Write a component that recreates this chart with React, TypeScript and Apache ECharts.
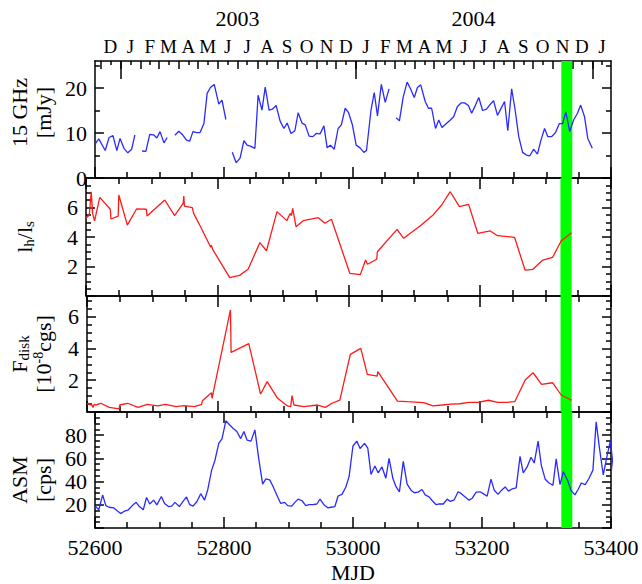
import React, { useEffect, useRef } from 'react';
import * as echarts from 'echarts';

const X_MIN = 52600;
const X_MAX = 53400;

// 15 GHz radio flux (mJy); null = gap in the light curve
const radioMjd = [
  52600, 52606, 52616, 52622, 52628, 52634, 52639, 52645, 52651, 52657, 52662, 52668,
  52673, 52679, 52685, 52691, 52696, 52701, 52707, 52712, 52718,
  52724, 52730, 52736, 52742, 52747, 52752, 52758, 52763, 52769, 52774, 52779, 52785, 52792, 52797, 52803, 52808,
  52813, 52819, 52825, 52831, 52836, 52841, 52848, 52853, 52859, 52864, 52870, 52875, 52881, 52887, 52893, 52898,
  52904, 52910, 52915, 52921, 52926, 52932, 52938, 52943, 52949, 52955, 52960, 52965, 52971, 52977, 52982, 52988,
  52993, 52999, 53005, 53011, 53017, 53021, 53028, 53033, 53038, 53044, 53050, 53056, 53061,
  53067, 53072, 53078, 53084, 53089, 53095, 53100, 53105, 53112, 53117, 53122, 53128, 53133, 53138, 53144, 53151,
  53156, 53162, 53168, 53173, 53179, 53184, 53190, 53195, 53201, 53207, 53213, 53218, 53224, 53229, 53235, 53240,
  53246, 53251, 53257, 53263, 53269, 53274, 53280, 53286, 53291, 53297, 53302, 53308, 53314, 53320, 53325, 53330,
  53336, 53342, 53348, 53353, 53359, 53364, 53371,
];
const radioFlux = [
  7.5, 8.7, 6.1, 9.0, 9.4, 6.1, 8.8, 6.6, 5.6, 6.4, 9.6, null,
  6.0, 5.9, 9.7, 9.6, 8.9, 10.3, 7.8, 9.0, null,
  9.5, 10.4, 9.6, 8.4, 8.2, 10.3, 10.1, 10.1, 12.1, 18.8, 20.1, 20.8, 16.4, 17.3, 13.0, null,
  5.7, 3.4, 4.4, 8.3, 7.3, 7.1, 6.6, 18.4, 15.1, 20.2, 15.1, 15.3, 16.1, 12.7, 11.0, 12.2,
  9.9, 10.5, 14.5, 12.2, 11.8, 9.3, 9.2, 9.9, 9.8, 11.6, 6.7, 7.3, 6.4, 11.0, 11.8, 15.5,
  14.6, 11.9, 7.3, 6.7, 5.7, 6.1, 15.1, 19.0, 13.8, 20.8, 16.8, 19.8, null,
  13.4, 12.7, 18.1, 21.3, 19.9, 17.9, 20.1, 20.7, 17.0, 15.5, 15.5, 11.0, 12.9, 11.2, 12.0, 12.9,
  13.6, 15.9, 16.7, 16.7, 16.1, 14.4, 16.2, 17.9, 15.0, 15.3, 16.4, 17.2, 13.9, 15.3, 17.0, 10.5,
  19.8, 15.5, 9.2, 5.7, 5.1, 4.9, 6.4, 5.3, 8.2, 11.0, 9.2, 9.2, 10.1, 12.1, 12.1, 14.7,
  10.3, 12.9, 14.4, 16.2, 13.6, 8.8, 6.6,
];

// hard-to-soft luminosity ratio l_h/l_s
const ratioMjd = [
  52600, 52605, 52608, 52610, 52613, 52621, 52637, 52638, 52649, 52650, 52663, 52677, 52692, 52693,
  52720, 52735, 52748, 52749, 52750, 52762, 52764, 52775, 52790, 52791, 52793, 52819, 52834, 52847,
  52865, 52875, 52891, 52906, 52911, 52913, 52915, 52920, 52931, 52954, 52964, 52974, 53002, 53018,
  53026, 53029, 53043, 53044, 53074, 53084, 53109, 53128, 53142, 53155, 53169, 53183, 53197, 53216,
  53227, 53253, 53269, 53281, 53296, 53311, 53324, 53340,
];
const ratioValue = [
  5.27, 5.49, 7.07, 5.6, 5.1, 6.69, 5.88, 5.22, 5.42, 6.85, 4.81, 5.9, 5.88, 5.42,
  6.51, 5.45, 6.28, 6.78, 6.1, 5.99, 5.6, 4.66, 3.3, 3.45, 3.16, 1.24, 1.4, 1.81,
  3.62, 3.07, 5.72, 5.11, 5.6, 5.45, 5.94, 4.7, 5.11, 5.31, 4.93, 5.2, 1.54, 1.45,
  2.44, 2.15, 2.49, 3.0, 4.52, 3.91, 4.75, 5.45, 6.17, 7.07, 6.06, 6.21, 4.25, 4.41,
  4.09, 3.98, 1.76, 1.81, 2.44, 2.62, 3.73, 4.29,
];

// disk flux, 10^-8 cgs
const diskMjd = [
  52600, 52602, 52605, 52607, 52609, 52611, 52614, 52616, 52621, 52634, 52649, 52650, 52662, 52678,
  52692, 52708, 52720, 52736, 52748, 52764, 52775, 52776, 52790, 52791, 52793, 52819, 52820, 52847,
  52865, 52875, 52891, 52906, 52911, 52913, 52916, 52931, 52952, 52964, 52974, 52986, 53002, 53018,
  53028, 53043, 53044, 53074, 53089, 53114, 53128, 53142, 53155, 53169, 53183, 53197, 53213, 53227,
  53241, 53253, 53269, 53281, 53294, 53311, 53324, 53340,
];
const diskFlux = [
  0.48, 0.55, 0.44, 0.48, 0.29, 0.48, 0.44, 0.48, 0.55, 0.29, 0.19, 0.44, 0.55, 0.29,
  0.48, 0.38, 0.48, 0.34, 0.4, 0.34, 0.48, 0.69, 1.21, 0.86, 1.28, 6.42, 3.75, 4.3,
  1.13, 1.91, 0.86, 0.38, 0.34, 1.03, 0.44, 0.34, 0.44, 0.29, 0.55, 0.75, 3.63, 4.0,
  2.37, 2.26, 2.54, 0.69, 0.65, 0.59, 0.38, 0.44, 0.5, 0.52, 0.61, 0.61, 0.74, 0.61,
  0.61, 0.65, 2.01, 2.47, 1.74, 1.84, 1.07, 0.74,
];

// RXTE ASM count rate (cps)
const asmMjd = [
  52600, 52606, 52612, 52617, 52622, 52629, 52634, 52640, 52646, 52652, 52658, 52664, 52669, 52675,
  52680, 52685, 52691, 52696, 52703, 52708, 52714, 52719, 52724, 52731, 52736, 52742, 52747, 52752,
  52758, 52764, 52770, 52775, 52781, 52786, 52792, 52797, 52803, 52809, 52814, 52820, 52826, 52831,
  52836, 52842, 52848, 52854, 52860, 52865, 52871, 52876, 52882, 52888, 52894, 52899, 52905, 52910,
  52915, 52921, 52927, 52932, 52938, 52944, 52949, 52955, 52961, 52966, 52972, 52977, 52983, 52989,
  52994, 53000, 53006, 53011, 53018, 53023, 53028, 53034, 53039, 53045, 53051, 53056, 53062, 53067,
  53072, 53078, 53084, 53090, 53095, 53101, 53107, 53112, 53118, 53123, 53129, 53134, 53140, 53146,
  53151, 53157, 53163, 53168, 53174, 53180, 53185, 53191, 53197, 53202, 53208, 53214, 53219, 53225,
  53230, 53236, 53241, 53247, 53253, 53259, 53264, 53270, 53276, 53281, 53287, 53292, 53298, 53304,
  53310, 53315, 53321, 53326, 53333, 53338, 53344, 53349, 53354, 53360, 53366, 53372, 53377, 53382,
  53388, 53394, 53399, 53404,
];
const asmRate = [
  19.3, 15.7, 28.5, 19.3, 17.9, 17.4, 15.1, 12.4, 14.6, 15.7, 19.3, 22.1, 18.5, 15.7,
  26.3, 20.7, 24.0, 19.9, 27.1, 21.2, 18.5, 18.8, 22.1, 18.5, 22.6, 26.8, 20.1, 18.8,
  22.6, 29.6, 24.0, 33.2, 49.9, 58.2, 72.9, 76.8, 92.4, 88.8, 86.0, 83.2, 77.1, 83.2,
  75.7, 74.9, 84.6, 59.6, 37.9, 42.4, 41.5, 36.0, 28.5, 21.2, 22.1, 19.3, 18.8, 22.1,
  24.9, 23.5, 19.3, 20.1, 20.1, 20.7, 24.9, 20.1, 17.4, 17.9, 18.5, 27.6, 29.0, 35.4,
  44.3, 70.7, 74.9, 68.5, 72.9, 68.8, 46.2, 53.5, 47.6, 52.6, 42.9, 60.1, 42.4, 35.4,
  31.2, 57.4, 37.9, 32.6, 30.4, 30.9, 33.2, 28.5, 26.8, 23.5, 20.1, 20.7, 20.7, 24.9,
  22.9, 24.3, 31.2, 29.6, 26.8, 24.0, 25.7, 30.9, 31.2, 29.6, 27.4, 42.1, 32.6, 29.0,
  32.4, 35.4, 31.8, 33.8, 34.6, 61.8, 47.6, 52.6, 61.0, 56.0, 74.9, 54.0, 42.1, 38.8,
  36.8, 59.6, 37.4, 48.5, 40.7, 32.4, 28.5, 33.2, 38.8, 37.4, 42.9, 49.9, 91.5, 69.3,
  45.7, 62.4, 75.4, 50,
];

// calendar axis on top
const monthStartMjd = [
  52609, 52640, 52671, 52699, 52730, 52760, 52791, 52821, 52852, 52883, 52913, 52944, 52974,
  53005, 53036, 53065, 53096, 53126, 53157, 53187, 53218, 53249, 53279, 53310, 53340, 53371,
];
const monthMidMjd = [
  52624, 52655, 52685, 52714, 52745, 52775, 52806, 52836, 52867, 52898, 52928, 52959, 52989,
  53020, 53050, 53080, 53111, 53141, 53172, 53202, 53233, 53264, 53294, 53325, 53355, 53386,
];
const monthLetters = [
  'D', 'J', 'F', 'M', 'A', 'M', 'J', 'J', 'A', 'S', 'O', 'N', 'D',
  'J', 'F', 'M', 'A', 'M', 'J', 'J', 'A', 'S', 'O', 'N', 'D', 'J',
];
const yearStartMjd = [52640, 53005, 53371];
const yearMidMjd = [52821, 53187];
const yearLabels = ['2003', '2004'];

// shaded interval
const bandStart = 53323;
const bandEnd = 53340;

// y-axis ticks per panel
const radioMajor = [0, 10, 20];
const radioMinor = [5, 15, 25];
const radioLabels = [0, 10, 20];
const ratioMajor = [0, 2, 4, 6, 8];
const ratioMinor = [0.5, 1, 1.5, 2.5, 3, 3.5, 4.5, 5, 5.5, 6.5, 7, 7.5];
const ratioLabels = [2, 4, 6];
const diskMajor = [0, 2, 4, 6];
const diskMinor = [0.5, 1, 1.5, 2.5, 3, 3.5, 4.5, 5, 5.5, 6.5, 7];
const diskLabels = [2, 4, 6];
const asmMajor = [0, 20, 40, 60, 80, 100];
const asmMinor = [5, 10, 15, 25, 30, 35, 45, 50, 55, 65, 70, 75, 85, 90, 95];
const asmLabels = [20, 40, 60, 80];

const FONT = 'Liberation Serif';
const AX = { color: '#000', width: 1.5 };
const BLUE = '#2a2aff';
const RED = '#ff1a1a';

const grids = [
  { left: 86, right: 31, top: 61, height: 117 },
  { left: 86, right: 31, top: 178, height: 118 },
  { left: 86, right: 31, top: 296, height: 116 },
  { left: 86, right: 31, top: 412, height: 120 },
];

const richName = {
  n: { fontSize: 22, fontFamily: FONT, color: '#000', lineHeight: 24, verticalAlign: 'middle' },
  s: { fontSize: 15, fontFamily: FONT, color: '#000', lineHeight: 15, verticalAlign: 'bottom' },
  p: { fontSize: 14, fontFamily: FONT, color: '#000', lineHeight: 14, verticalAlign: 'top' },
};

const richTick = {
  t: { fontSize: 22, fontFamily: FONT, color: '#000' },
  m: { fontSize: 19, fontFamily: FONT, color: '#000' },
};

const tickFmt = (v: number) => `{t|${v}}`;

function xFrame(grid: number, position: string, showLabel: boolean, name?: string) {
  return {
    type: 'value', gridIndex: grid, position, min: X_MIN, max: X_MAX, interval: 200,
    axisLine: { show: true, onZero: false, lineStyle: AX },
    axisTick: { show: true, inside: true, length: 11, lineStyle: AX },
    minorTick: { show: true, splitNumber: 4, length: 6, lineStyle: AX },
    splitLine: { show: false }, minorSplitLine: { show: false },
    axisLabel: { show: showLabel, margin: 8, fontSize: 22, fontFamily: FONT, color: '#000', formatter: tickFmt, rich: richTick },
    name: name || '', nameLocation: 'middle', nameGap: 33,
    nameTextStyle: { fontSize: 22, fontFamily: FONT, color: '#000' },
  };
}

function yFrame(grid: number, min: number, max: number, major: number[], minor: number[], labels: number[], name: string, nameGap: number, padding: number[]) {
  const base = { type: 'value', gridIndex: grid, min, max, splitLine: { show: false } };
  return [
    {
      ...base, position: 'left',
      axisLine: { show: true, onZero: false, lineStyle: AX },
      axisTick: { show: true, inside: true, length: 9, lineStyle: AX, customValues: major },
      axisLabel: { show: true, margin: 8, fontSize: 22, fontFamily: FONT, color: '#000', customValues: labels, formatter: tickFmt, rich: richTick },
      name, nameLocation: 'middle', nameRotate: 90, nameGap,
      nameTextStyle: { rich: richName, align: 'center', padding },
    },
    {
      ...base, position: 'left',
      axisLine: { show: false, onZero: false },
      axisTick: { show: true, inside: true, length: 5, lineStyle: AX, customValues: minor },
      axisLabel: { show: false },
    },
    {
      ...base, position: 'right',
      axisLine: { show: true, onZero: false, lineStyle: AX },
      axisTick: { show: true, inside: true, length: 9, lineStyle: AX, customValues: major },
      axisLabel: { show: false },
    },
    {
      ...base, position: 'right',
      axisLine: { show: false, onZero: false },
      axisTick: { show: true, inside: true, length: 5, lineStyle: AX, customValues: minor },
      axisLabel: { show: false },
    },
  ];
}

function pairs(xs: number[], ys: (number | null)[]) {
  return xs.map((x, i) => [x, ys[i] === null ? '-' : ys[i]]);
}

export default function App() {
  const ref = useRef<HTMLDivElement>(null);
  useEffect(() => {
    if (!ref.current) return;
    document.body.style.margin = '0';
    const chart = echarts.init(ref.current, undefined, { renderer: 'svg' });

    const xAxes: any[] = [];
    const bottomIdx: number[] = [];
    // grid 0
    bottomIdx.push(xAxes.length);
    xAxes.push(xFrame(0, 'bottom', false));
    xAxes.push({
      type: 'value', gridIndex: 0, position: 'top', min: X_MIN, max: X_MAX,
      axisLine: { show: true, onZero: false, lineStyle: AX },
      axisTick: { show: true, inside: true, length: 8, lineStyle: AX, customValues: monthStartMjd },
      axisLabel: {
        show: true, margin: 5, fontSize: 19, fontFamily: FONT, color: '#000', customValues: monthMidMjd, rich: richTick,
        formatter: (v: number) => `{m|${monthLetters[monthMidMjd.indexOf(Math.round(v))] || ''}}`,
      },
      splitLine: { show: false },
    });
    xAxes.push({
      type: 'value', gridIndex: 0, position: 'top', min: X_MIN, max: X_MAX,
      axisLine: { show: false, onZero: false },
      axisTick: { show: true, inside: true, length: 4, lineStyle: AX, customValues: monthMidMjd },
      axisLabel: { show: false },
      splitLine: { show: false },
    });
    xAxes.push({
      type: 'value', gridIndex: 0, position: 'top', min: X_MIN, max: X_MAX,
      axisLine: { show: false, onZero: false },
      axisTick: { show: true, inside: true, length: 18, lineStyle: AX, customValues: yearStartMjd },
      axisLabel: {
        show: true, margin: 32, fontSize: 22, fontFamily: FONT, color: '#000', customValues: yearMidMjd, rich: richTick,
        formatter: (v: number) => `{t|${yearLabels[yearMidMjd.indexOf(Math.round(v))] || ''}}`,
      },
      splitLine: { show: false },
    });
    for (let g = 1; g < 4; g++) {
      bottomIdx.push(xAxes.length);
      xAxes.push(xFrame(g, 'bottom', g === 3, g === 3 ? 'MJD' : ''));
      xAxes.push(xFrame(g, 'top', false));
    }

    const yAxes: any[] = [
      ...yFrame(0, 0, 26, radioMajor, radioMinor, radioLabels, '{n|15 GHz}\n{n|[mJy]}', 32, [0, 0, 0, 14]),
      ...yFrame(1, 0, 8, ratioMajor, ratioMinor, ratioLabels, '{n|l}{s|h}{n|/l}{s|s}', 50, [0, 0, 0, 0]),
      ...yFrame(2, 0, 7.3, diskMajor, diskMinor, diskLabels, '{n|F}{s|disk}\n{n|[10}{p|-8}{n|cgs]}', 32, [0, 0, 0, 0]),
      ...yFrame(3, 0, 100, asmMajor, asmMinor, asmLabels, '{n|ASM}\n{n|[cps]}', 32, [0, 20, 0, 0]),
    ];

    const dataSets: { d: any[]; color: string }[] = [
      { d: pairs(radioMjd, radioFlux), color: BLUE },
      { d: pairs(ratioMjd, ratioValue), color: RED },
      { d: pairs(diskMjd, diskFlux), color: RED },
      { d: pairs(asmMjd, asmRate), color: BLUE },
    ];

    const series: any[] = [];
    dataSets.forEach((ds, g) => {
      series.push({
        type: 'line', xAxisIndex: bottomIdx[g], yAxisIndex: 4 * g, data: [], z: 1, silent: true,
        markArea: {
          silent: true,
          itemStyle: { color: '#00ff00', opacity: 1 },
          data: [[{ xAxis: bandStart }, { xAxis: bandEnd }]],
        },
      });
      series.push({
        type: 'line', xAxisIndex: bottomIdx[g], yAxisIndex: 4 * g, data: ds.d, z: 3,
        showSymbol: false, symbol: 'none', connectNulls: false, clip: true,
        lineStyle: { color: ds.color, width: 1.3 },
      });
    });

    chart.setOption({
      animation: false,
      backgroundColor: '#fff',
      textStyle: { fontFamily: FONT, color: '#000' },
      grid: grids,
      xAxis: xAxes,
      yAxis: yAxes,
      series,
    });
    return () => chart.dispose();
  }, []);
  return <div ref={ref} style={{ width: 642, height: 584 }} />;
}
